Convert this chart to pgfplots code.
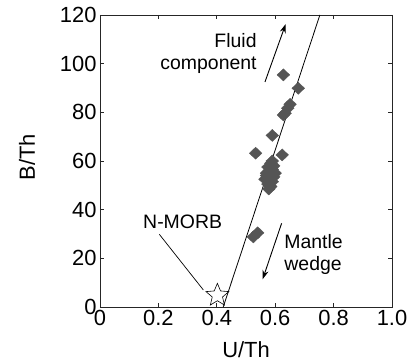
\documentclass[border=0pt]{standalone}
\usepackage{fontspec}
\setmainfont{Liberation Sans}
\usepackage{pgfplots}
\pgfplotsset{compat=1.18}
\usetikzlibrary{arrows.meta}
\definecolor{dia}{RGB}{85,85,85}
\pgfdeclareplotmark{ostar}{%
  \pgfpathmoveto{\pgfpointpolar{90}{\pgfplotmarksize}}%
  \pgfpathlineto{\pgfpointpolar{126}{0.45\pgfplotmarksize}}%
  \pgfpathlineto{\pgfpointpolar{162}{\pgfplotmarksize}}%
  \pgfpathlineto{\pgfpointpolar{198}{0.45\pgfplotmarksize}}%
  \pgfpathlineto{\pgfpointpolar{234}{\pgfplotmarksize}}%
  \pgfpathlineto{\pgfpointpolar{270}{0.45\pgfplotmarksize}}%
  \pgfpathlineto{\pgfpointpolar{306}{\pgfplotmarksize}}%
  \pgfpathlineto{\pgfpointpolar{342}{0.45\pgfplotmarksize}}%
  \pgfpathlineto{\pgfpointpolar{18}{\pgfplotmarksize}}%
  \pgfpathlineto{\pgfpointpolar{54}{0.45\pgfplotmarksize}}%
  \pgfpathclose\pgfusepathqstroke}
\begin{document}
\begin{tikzpicture}
\begin{axis}[
  at={(0,0)}, anchor=south west,
  scale only axis, width=292bp, height=292bp,
  xmin=0, xmax=1, ymin=0, ymax=120,
  xtick={0,0.2,0.4,0.6,0.8,1.0},
  xticklabels={0,0.2,0.4,0.6,0.8,1.0},
  ytick={0,20,40,60,80,100,120},
  tick align=inside, major tick length=4bp,
  axis line style={black!85, line width=0.7bp},
  tick style={black!85, line width=0.7bp},
  ticklabel style={font=\fontsize{22}{26}\selectfont},
  /pgf/number format/assume math mode=true,
  xlabel={U/Th}, ylabel={B/Th},
  label style={font=\fontsize{22}{26}\selectfont},
  xlabel style={at={(axis description cs:0.5,-0.147)}, anchor=center},
  ylabel style={at={(axis description cs:-0.25,0.513)}, anchor=center},
  clip=false,
]
% regression line
\addplot[black, line width=0.8bp] coordinates {(0.422,0) (0.753,120)};
% samples
\addplot[only marks, mark=diamond*, mark size=6bp,
  mark options={fill=dia, draw=dia, xscale=1.4}] coordinates {
  (0.628,95.4) (0.679,89.9) (0.651,83.3) (0.643,81.7) (0.634,79.6) (0.628,78.9)
  (0.590,70.5) (0.533,63.2) (0.624,62.5)
  (0.585,59) (0.595,58) (0.575,57.5) (0.590,56.5) (0.580,56) (0.600,55)
  (0.570,55) (0.585,54) (0.575,53) (0.595,53.5) (0.565,52.5) (0.580,52)
  (0.590,51.5) (0.575,50.5) (0.585,49.5) (0.578,48.5) (0.570,54) (0.590,60)
  (0.525,28.8) (0.540,30.5)
};
% N-MORB
\addplot[only marks, mark=ostar, mark size=12bp,
  mark options={black, line width=0.6bp}] coordinates {(0.402,4.8)};
% annotations
\draw[-{Stealth[length=9bp,width=6bp]}, line width=0.9bp] (axis cs:0.565,92.5) -- (axis cs:0.636,116.3);
\draw[-{Stealth[length=9bp,width=6bp]}, line width=0.9bp] (axis cs:0.622,34.4) -- (axis cs:0.557,11.4);
\draw[line width=0.7bp] (axis cs:0.203,29.9) -- (axis cs:0.354,7.0);
\node[anchor=east, align=right, inner sep=0pt, font=\fontsize{19.5}{22}\selectfont] at (axis cs:0.537,104) {Fluid\\component};
\node[anchor=west, align=left, inner sep=0pt, font=\fontsize{19.5}{22}\selectfont] at (axis cs:0.631,21.4) {Mantle\\wedge};
\node[anchor=center, inner sep=0pt, font=\fontsize{19.5}{22}\selectfont] at (axis cs:0.283,35.1) {N-MORB};
\end{axis}
\pgfresetboundingbox
\path[use as bounding box] (-100bp,-56bp) rectangle (309bp,307bp);
\end{tikzpicture}
\end{document}
